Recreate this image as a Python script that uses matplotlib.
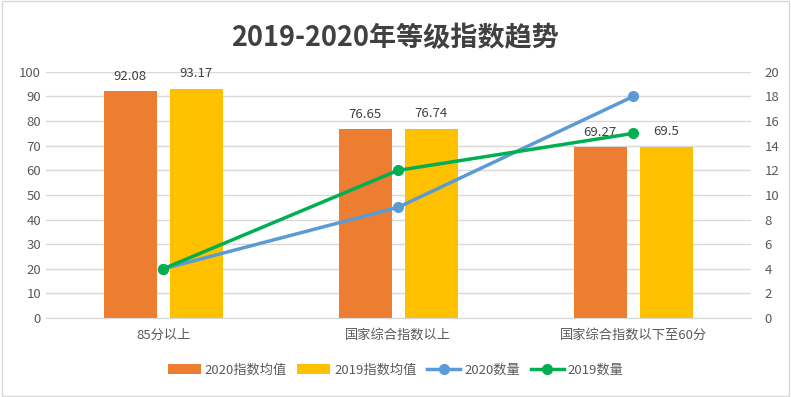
import numpy as np
import matplotlib.pyplot as plt
from matplotlib.patches import Rectangle

plt.rcParams['font.family'] = ['Noto Sans CJK SC', 'DejaVu Sans']

# data
categories = ["85分以上", "国家综合指数以上", "国家综合指数以下至60分"]
avg_2020 = [92.08, 76.65, 69.27]
avg_2019 = [93.17, 76.74, 69.5]
labels_2020 = ["92.08", "76.65", "69.27"]
labels_2019 = ["93.17", "76.74", "69.5"]
count_2020 = [4, 9, 18]
count_2019 = [4, 12, 15]

orange = "#ED7D31"
yellow = "#FFC000"
blue = "#5B9BD5"
green = "#00B050"
text_col = "#595959"
grid_col = "#D9D9D9"

fig = plt.figure(figsize=(7.91, 3.97), dpi=100)
fig.patches.append(Rectangle((0.002, 0.003), 0.995, 0.994, transform=fig.transFigure,
                             fill=False, edgecolor="#D9D9D9", linewidth=1))
ax = fig.add_axes([0.058, 0.199, 0.891, 0.620])

x = np.arange(len(categories))
w = 0.225
off = 0.141

b1 = ax.bar(x - off, avg_2020, w, color=orange, label="2020指数均值", zorder=2)
b2 = ax.bar(x + off, avg_2019, w, color=yellow, label="2019指数均值", zorder=2)
for rect, lab in zip(b1, labels_2020):
    ax.text(rect.get_x() + rect.get_width() / 2, rect.get_height() + 3.5, lab,
            ha="center", va="bottom", fontsize=9.5, color="#404040")
for rect, lab in zip(b2, labels_2019):
    ax.text(rect.get_x() + rect.get_width() / 2, rect.get_height() + 3.5, lab,
            ha="center", va="bottom", fontsize=9.5, color="#404040")

ax.set_xlim(-0.5, len(categories) - 0.5)
ax.set_ylim(0, 100)
ax.set_yticks(range(0, 101, 10))
ax.set_xticks(x)
ax.set_xticklabels(categories)
ax.grid(axis="y", color=grid_col, linewidth=1, zorder=0)
ax.set_axisbelow(True)
for s in ["top", "left", "right"]:
    ax.spines[s].set_visible(False)
ax.spines["bottom"].set_color(grid_col)
ax.tick_params(axis="both", length=0, labelsize=9.5, labelcolor=text_col)
ax.tick_params(axis="x", pad=8)

ax2 = ax.twinx()
l1, = ax2.plot(x, count_2020, color=blue, linewidth=2.5, marker="o", markersize=7,
               label="2020数量", zorder=3)
l2, = ax2.plot(x, count_2019, color=green, linewidth=2.5, marker="o", markersize=7,
               label="2019数量", zorder=3)
ax2.set_ylim(0, 20)
ax2.set_yticks(range(0, 21, 2))
for s in ["top", "left", "right", "bottom"]:
    ax2.spines[s].set_visible(False)
ax2.tick_params(axis="y", length=0, labelsize=9.5, labelcolor=text_col, pad=10)

fig.text(0.5, 0.905, "2019-2020年等级指数趋势", ha="center", va="center",
         fontsize=19.5, fontweight="bold", color="#404040")

fig.legend(handles=[b1, b2, l1, l2], loc="center", bbox_to_anchor=(0.5, 0.068), ncol=4,
           frameon=False, fontsize=9.5, labelcolor=text_col, handlelength=2.5,
           columnspacing=0.8, handletextpad=0.3)

fig.savefig("out.png", dpi=100)
